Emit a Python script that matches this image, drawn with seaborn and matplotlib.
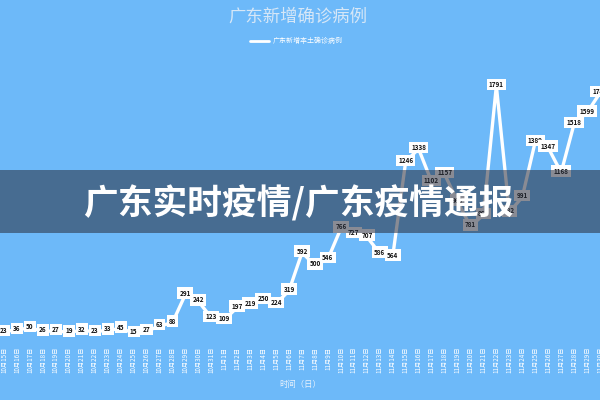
import pandas as pd
import seaborn as sns
import matplotlib.pyplot as plt
from matplotlib.patches import Rectangle
from matplotlib.lines import Line2D

# dates (10月15日 .. 11月30日) and daily new local cases
dates = [f"10月{d}日" for d in range(15, 32)] + [f"11月{d}日" for d in range(1, 31)]
cases = [23, 36, 50, 26, 27, 19, 32, 23, 33, 45, 15, 27, 63, 88,
         291, 242, 123, 109, 197, 219, 250, 224, 319, 592, 500, 546,
         766, 727, 707, 586, 564, 1246, 1338, 1102, 1157, 960, 781,
         862, 1791, 882, 991, 1389, 1347, 1168, 1518, 1599, 1740]

title = "广东新增确诊病例"
series_name = "广东新增本土确诊病例"
x_title = "时间（日）"
banner = "广东实时疫情/广东疫情通报"

df = pd.DataFrame({"idx": range(len(dates)), "date": dates, "cases": cases})

sns.set_style("white")
plt.rcParams['font.family'] = ['Noto Sans CJK SC', 'DejaVu Sans']

bg = "#6db9f9"
fig = plt.figure(figsize=(6, 4), dpi=100, facecolor=bg)
ax = fig.add_axes([0, 0.15, 1, 0.85])
ax.set_facecolor(bg)

sns.lineplot(data=df, x="idx", y="cases", color="white", linewidth=2.4, ax=ax)

for i, v in zip(df["idx"], df["cases"]):
    ax.annotate(str(v), (i, v), xytext=(0, 1), textcoords="offset points",
                ha="center", va="center", fontsize=4.6, fontweight="bold",
                color="#111111", zorder=5,
                bbox=dict(boxstyle="square,pad=0.35", fc="white", ec="none"))

ax.set_xlim(-0.31, 45.53)
ax.set_ylim(-37, 2409)
ax.set_xticks(df["idx"])
ax.set_xticklabels(dates, rotation=90, fontsize=4.5, color="white")
ax.tick_params(axis="x", length=0, pad=5)
ax.set_yticks([])
ax.set_xlabel(x_title, fontsize=6, color="#e8f2fc", labelpad=5)
ax.set_ylabel("")
for s in ax.spines.values():
    s.set_visible(False)

fig.text(0.497, 0.958, title, ha="center", va="center", fontsize=12.5,
         color="#d6e7f7")
fig.add_artist(Line2D([0.417, 0.449], [0.897, 0.897], color="white", lw=2))
fig.text(0.455, 0.897, series_name, ha="left", va="center", fontsize=5,
         color="white")

# dark translucent banner with the heading
fig.add_artist(Rectangle((0, 0.4175), 1, 0.1575, transform=fig.transFigure,
                         facecolor="#282d3c", alpha=0.55, edgecolor="none",
                         zorder=10))
fig.text(0.498, 0.492, banner, ha="center", va="center", fontsize=25,
         fontweight="bold", color="white", zorder=11)

fig.savefig("out.png", dpi=100, facecolor=bg)
